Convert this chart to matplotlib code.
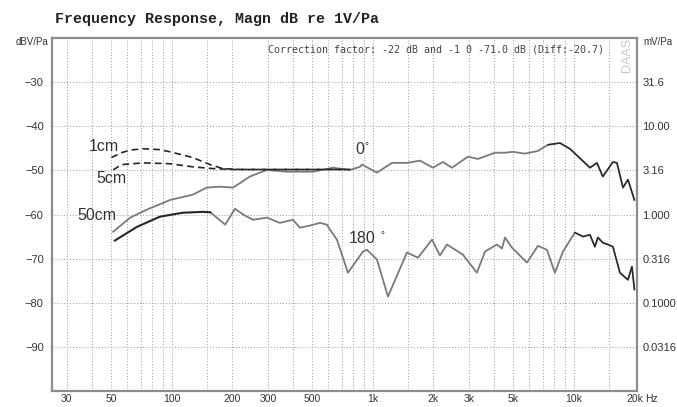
import numpy as np
import matplotlib
matplotlib.use("Agg")
import matplotlib.pyplot as plt
from matplotlib.ticker import FixedLocator, NullLocator

# ── Data ─────────────────────────────────────────────────────────
f_1cm = [50, 56, 62, 72, 87, 98, 127, 155, 179, 220, 300, 500, 770]
db_1cm = [-47.1, -46.0, -45.4, -45.1, -45.3, -45.8, -47.1, -48.7, -49.6,
          -49.8, -49.8, -49.8, -49.8]

f_5cm = [51, 56, 72, 98, 127, 160, 200, 300, 500, 770]
db_5cm = [-49.9, -48.7, -48.3, -48.5, -49.2, -49.6, -49.8, -49.8, -49.8, -49.8]

f_0 = [51, 62, 75, 98, 127, 149, 173, 201, 223, 244, 274, 297, 373, 503,
       632, 768, 861, 882, 1047, 1243, 1476, 1714, 1990, 2230, 2472, 2970,
       3330, 4045, 4540, 4970, 5705, 6620, 7430, 8520, 9550, 12020, 13010,
       13930, 15630, 16370, 17540, 18570, 20000]
db_0 = [-63.9, -60.7, -58.9, -56.7, -55.5, -53.9, -53.7, -53.9, -52.6, -51.4,
        -50.5, -49.9, -50.3, -50.3, -49.4, -49.9, -49.2, -48.7, -50.5, -48.3,
        -48.3, -47.8, -49.4, -48.1, -49.4, -46.9, -47.4, -46.0, -46.0, -45.8,
        -46.2, -45.6, -44.2, -43.8, -45.1, -49.4, -48.3, -51.4, -48.1, -48.3,
        -53.9, -52.1, -56.7]

f_50cm = [52, 67, 87, 113, 143, 155]
db_50cm = [-65.9, -62.8, -60.5, -59.6, -59.4, -59.5]

f_180 = [155, 160, 184, 206, 226, 253, 297, 344, 400, 433, 486, 545, 590,
         611, 662, 751, 892, 934, 1047, 1188, 1476, 1675, 1967, 2155, 2334,
         2803, 3290, 3610, 4140, 4385, 4540, 4915, 5840, 6620, 7340, 8040,
         8820, 10110, 11090, 12020, 12710, 13160, 13930, 14760, 15630, 16940,
         18570, 19440, 20000]
db_180 = [-59.5, -60.0, -62.3, -58.7, -60.0, -61.2, -60.7, -61.9, -61.2,
          -63.0, -62.5, -61.9, -62.3, -63.4, -65.7, -73.2, -68.4, -68.0,
          -70.2, -78.6, -68.6, -69.8, -65.7, -69.3, -66.8, -69.1, -73.2,
          -68.4, -66.8, -67.7, -65.2, -67.5, -70.9, -67.1, -68.0, -73.2,
          -68.4, -64.1, -65.0, -64.6, -67.3, -65.2, -66.4, -66.8, -67.3,
          -73.2, -74.8, -71.8, -77.0]

x_ticks = [30, 50, 100, 200, 300, 500, 1000, 2000, 3000, 5000, 10000, 20000]
x_labels = ["30", "50", "100", "200", "300", "500", "1k", "2k", "3k", "5k",
            "10k", "20k"]
x_grid = [30, 40, 50, 60, 70, 80, 90, 100, 150, 200, 300, 400, 500, 600, 700,
          800, 900, 1000, 1500, 2000, 3000, 4000, 5000, 6000, 7000, 8000,
          9000, 10000, 15000]
y_ticks = [-30, -40, -50, -60, -70, -80, -90]
mv_labels = ["31.6", "10.00", "3.16", "1.000", "0.316", "0.1000", "0.0316"]

# ── Style ────────────────────────────────────────────────────────
C_GRAY = "#7a7a7a"
C_DARK = "#262626"
C_FRAME = "#8c8c8c"
C_GRID = "#9a9a9a"
C_TXT = "#333333"
SANS = "Liberation Sans"

W, H = 677, 407
fig = plt.figure(figsize=(W / 100, H / 100), dpi=100, facecolor="white")
ax = fig.add_axes([52 / W, 1 - 391 / H, (637 - 52) / W, (391 - 38) / H])

ax.set_xscale("log")
ax.set_xlim(25.3, 20600)
ax.set_ylim(-100, -20)

# grid
for g in x_grid:
    ax.axvline(g, color=C_GRID, lw=0.7, ls=(0, (1, 2)), zorder=0)
for g in y_ticks:
    ax.axhline(g, color=C_GRID, lw=0.7, ls=(0, (1, 2)), zorder=0)

# curves
ax.plot(f_0, db_0, color=C_GRAY, lw=1.3, zorder=3)
ax.plot(f_180, db_180, color=C_GRAY, lw=1.3, zorder=3)
f0a, d0a = np.array(f_0), np.array(db_0)
m0 = f0a >= 7000
ax.plot(f0a[m0], d0a[m0], color=C_DARK, lw=1.0, zorder=4)
f18a, d18a = np.array(f_180), np.array(db_180)
m18 = f18a >= 10000
ax.plot(f18a[m18], d18a[m18], color=C_DARK, lw=1.0, zorder=4)
ax.plot(f_50cm, db_50cm, color=C_DARK, lw=1.5, zorder=4)
ax.plot(f_1cm, db_1cm, color=C_DARK, lw=1.2, ls=(0, (4, 2.5)), zorder=5)
ax.plot(f_5cm, db_5cm, color=C_DARK, lw=1.2, ls=(0, (4, 2.5)), zorder=5)

# curve labels
lab = dict(fontsize=11.5, family=SANS, color=C_TXT, va="center", zorder=6)
deg = dict(fontsize=7, family=SANS, color=C_TXT, va="center", ha="left")
ax.text(46, -44.7, "1cm", ha="center", **lab)
ax.text(50, -51.9, "5cm", ha="center", **lab)
ax.text(42.5, -60.3, "50cm", ha="center", **lab)
ax.text(862, -45.3, "0", ha="center", **lab)
ax.text(905, -44.6, "°", **deg)
ax.text(880, -65.4, "180", ha="center", **lab)
ax.text(1090, -64.7, "°", **deg)

# axes / ticks
for s in ax.spines.values():
    s.set_color(C_FRAME)
    s.set_linewidth(1.6)
ax.xaxis.set_major_locator(FixedLocator(x_ticks))
ax.xaxis.set_minor_locator(NullLocator())
ax.set_xticklabels(x_labels)
ax.set_yticks(y_ticks)
ax.tick_params(axis="y", length=0, labelsize=8, colors=C_TXT, pad=6)
ax.tick_params(axis="x", length=0, labelsize=7.5, colors=C_TXT, pad=2)
for t in ax.get_xticklabels() + ax.get_yticklabels():
    t.set_family(SANS)
fig.text(645 / W, 1 - 399 / H, "Hz", fontsize=7.5, family=SANS,
         color=C_TXT, ha="left", va="center")

ax2 = ax.twinx()
ax2.set_ylim(ax.get_ylim())
ax2.set_yticks(y_ticks)
ax2.set_yticklabels(mv_labels)
ax2.tick_params(length=0, labelsize=8, colors=C_TXT, pad=4)
for t in ax2.get_yticklabels():
    t.set_family(SANS)
for s in ax2.spines.values():
    s.set_visible(False)

# texts
fig.text(55 / W, 1 - 19 / H, "Frequency Response, Magn dB re 1V/Pa",
         fontsize=10.8, fontweight="bold", family="Liberation Mono",
         color="#222222", ha="left", va="center")
fig.text(48 / W, 1 - 42 / H, "dBV/Pa", fontsize=7, family=SANS,
         color=C_TXT, ha="right", va="center")
fig.text(643 / W, 1 - 42 / H, "mV/Pa", fontsize=7, family=SANS,
         color=C_TXT, ha="left", va="center")
fig.text(268 / W, 1 - 49 / H,
         "Correction factor: -22 dB and -1 0 -71.0 dB (Diff:-20.7)",
         fontsize=7.2, family="DejaVu Sans Mono", color="#444444",
         ha="left", va="center")
fig.text(627 / W, 1 - 55 / H, "DAAS", fontsize=9, family=SANS,
         color="#c8c8c8", rotation=90, ha="center", va="center")

fig.savefig("out.png", dpi=100, facecolor="white")
